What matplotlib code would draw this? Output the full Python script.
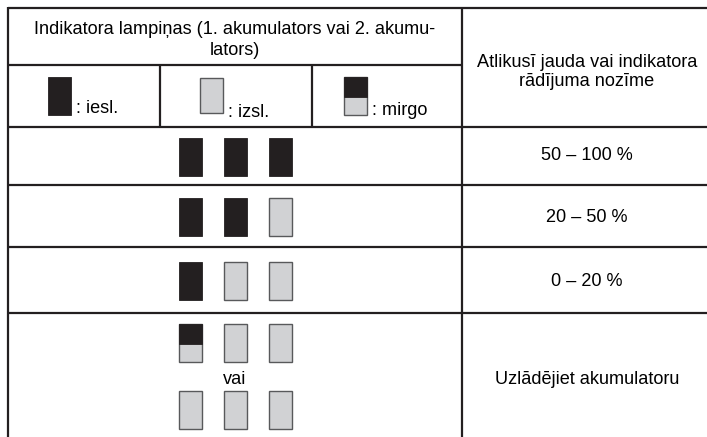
import matplotlib
matplotlib.use('Agg')
import matplotlib.pyplot as plt
from matplotlib.patches import Rectangle

plt.rcParams['font.family'] = ['Liberation Sans', 'DejaVu Sans']

HEADER_LEFT = "Indikatora lampiņas (1. akumulators vai 2. akumu-\nlators)"
HEADER_RIGHT = "Atlikusī jauda vai indikatora\nrādījuma nozīme"
LEGEND_STATES = ["on", "off", "blink"]
LEGEND_LABELS = [": iesl.", ": izsl.", ": mirgo"]
ROW_LAMPS = [
    ["on", "on", "on"],
    ["on", "on", "off"],
    ["on", "off", "off"],
    ["blink", "off", "off"],
    ["off", "off", "off"],
]
ROW_TEXT = ["50 – 100 %", "20 – 50 %", "0 – 20 %", "Uzlādējiet akumulatoru"]
OR_TEXT = "vai"

LINE = "#231f20"
DARK = "#231f20"
GREY = "#d1d2d4"
EDGE = "#58595b"


def lamp(ax, x, y, state, w=23, h=38):
    if state == "on":
        ax.add_patch(Rectangle((x, y), w, h, facecolor=DARK, edgecolor=DARK, lw=0.6))
    elif state == "off":
        ax.add_patch(Rectangle((x, y), w, h, facecolor=GREY, edgecolor=EDGE, lw=1.0))
    else:
        ax.add_patch(Rectangle((x, y), w, h, facecolor=GREY, edgecolor=EDGE, lw=1.0))
        ax.add_patch(Rectangle((x, y), w, h * 0.53, facecolor=DARK, edgecolor=DARK, lw=0.6))


fig = plt.figure(figsize=(7.07, 4.37), dpi=100)
ax = fig.add_axes([0, 0, 1, 1])
ax.set_xlim(0, 707)
ax.set_ylim(437, 0)
ax.axis("off")

# grid lines
lw = 1.6
for y, x1 in [(8, 720), (65, 462), (127, 720), (185, 720), (247, 720), (313, 720)]:
    ax.plot([8, x1], [y, y], color=LINE, lw=lw, solid_capstyle="butt")
for x, y0, y1 in [(8, 7, 437), (462, 7, 437), (160, 65, 127), (312, 65, 127)]:
    ax.plot([x, x], [y0, y1], color=LINE, lw=lw, solid_capstyle="butt")

fs = 13.1
ax.text(235, 40, HEADER_LEFT, ha="center", va="center", fontsize=fs, linespacing=1.3)
ax.text(587, 72, HEADER_RIGHT, ha="center", va="center", fontsize=fs, linespacing=1.2)

# legend row
legend_x = [48, 200, 344]
legend_y = [77, 78, 77]
legend_h = [38, 35, 38]
label_base = [113, 117, 115]
for lx, ly, lh, st, lab, lb in zip(legend_x, legend_y, legend_h, LEGEND_STATES,
                                   LEGEND_LABELS, label_base):
    lamp(ax, lx, ly, st, h=lh)
    ax.text(lx + 28, lb, lab, ha="left", va="baseline", fontsize=fs)

# lamp rows
lamp_x = [179, 224, 269]
row_tops = [138, 198, 262, 324, 391]
for top, states in zip(row_tops, ROW_LAMPS):
    for lx, st in zip(lamp_x, states):
        lamp(ax, lx, top, st)

ax.text(235, 380, OR_TEXT, ha="center", va="center", fontsize=fs)

text_y = [156, 217, 281, 379]
for ty, t in zip(text_y, ROW_TEXT):
    ax.text(587, ty, t, ha="center", va="center", fontsize=fs)

fig.savefig("out.png", dpi=100)
plt.close()
